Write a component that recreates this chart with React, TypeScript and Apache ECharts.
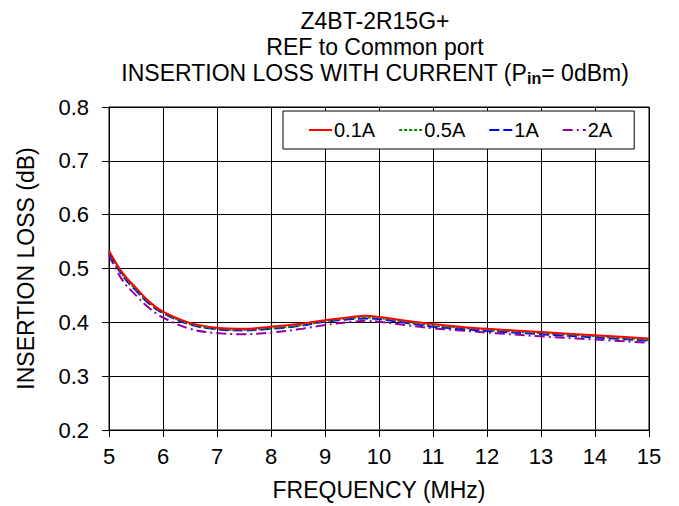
import React, { useEffect, useRef } from "react";
import * as echarts from "echarts";

const titleLines = ["Z4BT-2R15G+", "REF to Common port", "INSERTION LOSS WITH CURRENT (P{sub|in}= 0dBm)"];
const xName = "FREQUENCY (MHz)";
const yName = "INSERTION LOSS (dB)";
const seriesNames = ["0.1A", "0.5A", "1A", "2A"];

const freqs = [5, 5.25, 5.5, 5.75, 6, 6.5, 7, 7.5, 8, 8.5, 9, 9.5, 9.75, 10, 10.5, 11, 11.5, 12, 13, 14, 15];
const il01A = [0.533, 0.492, 0.464, 0.438, 0.42, 0.399, 0.39, 0.388, 0.392, 0.397, 0.404, 0.41, 0.412, 0.41, 0.403, 0.397, 0.392, 0.388, 0.382, 0.376, 0.37];
const il05A = [0.53, 0.489, 0.461, 0.436, 0.418, 0.397, 0.388, 0.386, 0.389, 0.394, 0.402, 0.408, 0.409, 0.408, 0.401, 0.394, 0.39, 0.386, 0.38, 0.374, 0.367];
const il1A = [0.528, 0.487, 0.459, 0.434, 0.417, 0.396, 0.387, 0.385, 0.388, 0.393, 0.401, 0.406, 0.407, 0.406, 0.399, 0.392, 0.388, 0.384, 0.378, 0.372, 0.366];
const il2A = [0.525, 0.478, 0.45, 0.426, 0.409, 0.388, 0.38, 0.378, 0.381, 0.387, 0.395, 0.401, 0.403, 0.401, 0.395, 0.389, 0.385, 0.381, 0.374, 0.368, 0.362];

const FONT = "'Liberation Sans', Arial, Helvetica, sans-serif";

export default function App() {
  const ref = useRef<HTMLDivElement>(null);
  useEffect(() => {
    if (!ref.current) return;
    const chart = echarts.init(ref.current, undefined, { renderer: "svg" });
    const pair = (ys: number[]) => freqs.map((f, i) => [f, ys[i]]);
    const mk = (name: string, ys: number[], color: string, type: any, z: number) => ({
      name,
      type: "line",
      data: pair(ys),
      smooth: 0.4,
      symbol: "none",
      showSymbol: false,
      z,
      lineStyle: { color, width: 2, type },
      itemStyle: { color },
    });
    chart.setOption({
      animation: false,
      textStyle: { fontFamily: FONT },
      title: {
        text: titleLines.join("\n"),
        left: 375,
        top: 8,
        padding: 0,
        textAlign: "center",
        textStyle: {
          fontFamily: FONT,
          fontSize: 23,
          fontWeight: "normal",
          color: "#000",
          lineHeight: 26,
          rich: {
            sub: { fontFamily: FONT, fontSize: 16, fontWeight: "bold", color: "#000", lineHeight: 11, verticalAlign: "bottom" },
          },
        },
      },
      legend: {
        data: seriesNames,
        left: 283,
        top: 111,
        padding: [9, 22, 9, 25],
        itemGap: 23,
        itemWidth: 23,
        itemHeight: 14,
        backgroundColor: "#fff",
        borderColor: "#000",
        borderWidth: 1,
        borderRadius: 0,
        itemStyle: { opacity: 0 },
        textStyle: { fontFamily: FONT, fontSize: 20, color: "#000", padding: [0, 0, 0, -3] },
      },
      grid: { left: 109, right: 30, top: 107, bottom: 76, show: true, borderColor: "#000", borderWidth: 1, backgroundColor: "transparent" },
      xAxis: {
        type: "value",
        min: 5,
        max: 15,
        interval: 1,
        name: xName,
        nameLocation: "middle",
        nameGap: 48,
        nameTextStyle: { fontFamily: FONT, fontSize: 23, color: "#000" },
        axisLine: { show: true, onZero: false, lineStyle: { color: "#000", width: 1 } },
        axisTick: { show: true, inside: false, length: 7, lineStyle: { color: "#000" } },
        axisLabel: { fontFamily: FONT, fontSize: 22, color: "#000", margin: 15 },
        splitLine: { show: true, lineStyle: { color: "#000", width: 1 } },
      },
      yAxis: {
        type: "value",
        min: 0.2,
        max: 0.8,
        interval: 0.1,
        name: yName,
        nameLocation: "middle",
        nameGap: 72,
        nameTextStyle: { fontFamily: FONT, fontSize: 23, color: "#000" },
        axisLine: { show: true, onZero: false, lineStyle: { color: "#000", width: 1 } },
        axisTick: { show: true, inside: false, length: 7, lineStyle: { color: "#000" } },
        axisLabel: { fontFamily: FONT, fontSize: 22, color: "#000", margin: 20, formatter: (v: number) => v.toFixed(1) },
        splitLine: { show: true, lineStyle: { color: "#000", width: 1 } },
      },
      series: [
        mk("2A", il2A, "#990099", [10, 4, 2, 4], 2),
        mk("1A", il1A, "#0000ff", [10, 4], 3),
        mk("0.5A", il05A, "#008800", [3, 2], 4),
        mk("0.1A", il01A, "#ff0000", "solid", 5),
      ],
    });
    return () => chart.dispose();
  }, []);
  return <div ref={ref} style={{ width: 679, height: 506, position: "absolute", left: 0, top: 0 }} />;
}
